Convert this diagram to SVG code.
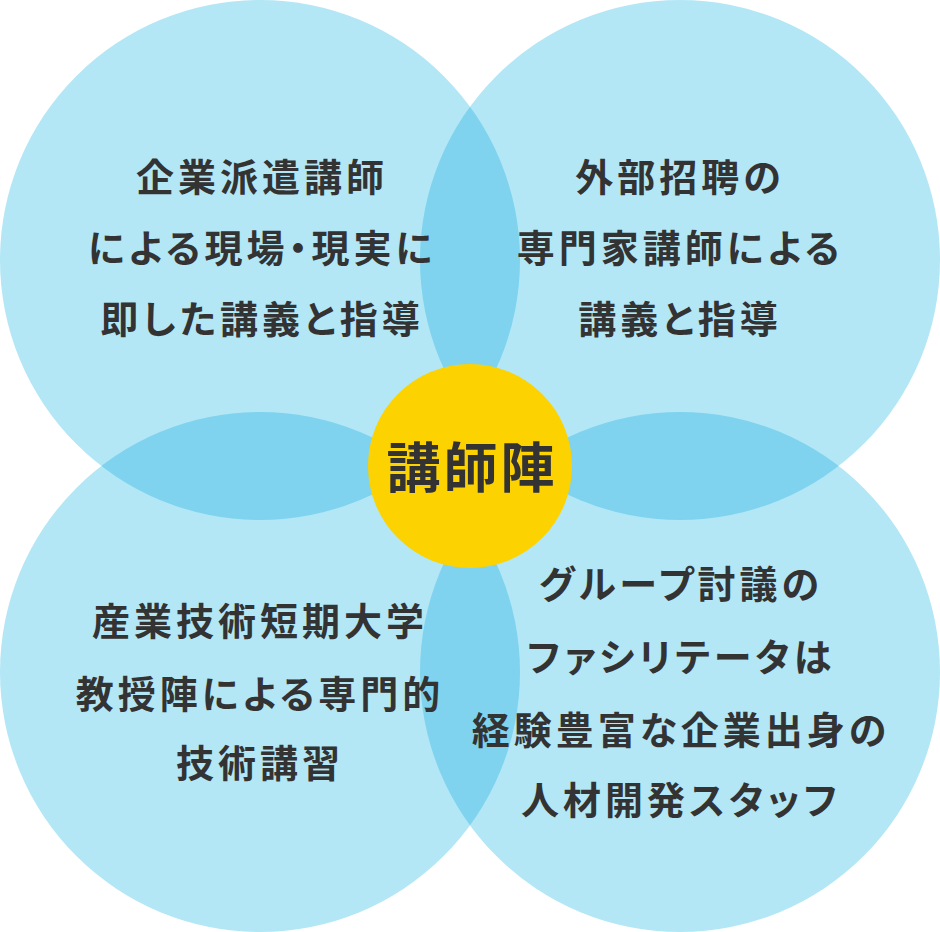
<svg xmlns="http://www.w3.org/2000/svg" xmlns:xlink="http://www.w3.org/1999/xlink" width="940" height="932" viewBox="0 0 940 932">
<style>
.c{fill:#b3e7f6}
.o{fill:#7fd3ee}
.t{font-family:"Noto Sans CJK JP","Noto Sans CJK SC",sans-serif;font-weight:700;font-size:38px;letter-spacing:4px;fill:#333;text-anchor:middle;dominant-baseline:central;font-feature-settings:"palt"}
.h{font-family:"Noto Sans CJK JP","Noto Sans CJK SC",sans-serif;font-weight:700;font-size:54px;letter-spacing:3px;fill:#333;text-anchor:middle;dominant-baseline:central}
</style>
<defs>
<circle id="cTL" cx="260" cy="260" r="260"/>
<circle id="cTR" cx="680" cy="260" r="260"/>
<circle id="cBL" cx="260" cy="672" r="260"/>
<circle id="cBR" cx="680" cy="672" r="260"/>
<clipPath id="clipTL"><use xlink:href="#cTL"/></clipPath>
<clipPath id="clipTR"><use xlink:href="#cTR"/></clipPath>
<clipPath id="clipBL"><use xlink:href="#cBL"/></clipPath>
<clipPath id="clipBR"><use xlink:href="#cBR"/></clipPath>
</defs>
<rect width="940" height="932" fill="#ffffff"/>
<g id="circles">
<use xlink:href="#cTL" class="c"/>
<use xlink:href="#cTR" class="c"/>
<use xlink:href="#cBL" class="c"/>
<use xlink:href="#cBR" class="c"/>
</g>
<g id="overlaps">
<use xlink:href="#cTR" class="o" clip-path="url(#clipTL)"/>
<use xlink:href="#cBL" class="o" clip-path="url(#clipTL)"/>
<use xlink:href="#cBR" class="o" clip-path="url(#clipTR)"/>
<use xlink:href="#cBR" class="o" clip-path="url(#clipBL)"/>
</g>
<g id="node-tl">
<text class="t" x="262" y="174">企業派遣講師</text>
<text class="t" x="262" y="245">による現場・現実に</text>
<text class="t" x="262" y="316">即した講義と指導</text>
</g>
<g id="node-tr">
<text class="t" x="680" y="174">外部招聘の</text>
<text class="t" x="680" y="245">専門家講師による</text>
<text class="t" x="680" y="316">講義と指導</text>
</g>
<g id="node-bl">
<text class="t" x="260" y="618">産業技術短期大学</text>
<text class="t" x="260" y="691">教授陣による専門的</text>
<text class="t" x="260" y="760">技術講習</text>
</g>
<g id="node-br">
<text class="t" x="681" y="581">グループ討議の</text>
<text class="t" x="681" y="654">ファシリテータは</text>
<text class="t" x="681" y="727">経験豊富な企業出身の</text>
<text class="t" x="681" y="797">人材開発スタッフ</text>
</g>
<g id="node-center">
<circle cx="470" cy="466" r="102" fill="#fcd200"/>
<text class="h" x="472" y="464">講師陣</text>
</g>
<g id="connectors"/>
</svg>
